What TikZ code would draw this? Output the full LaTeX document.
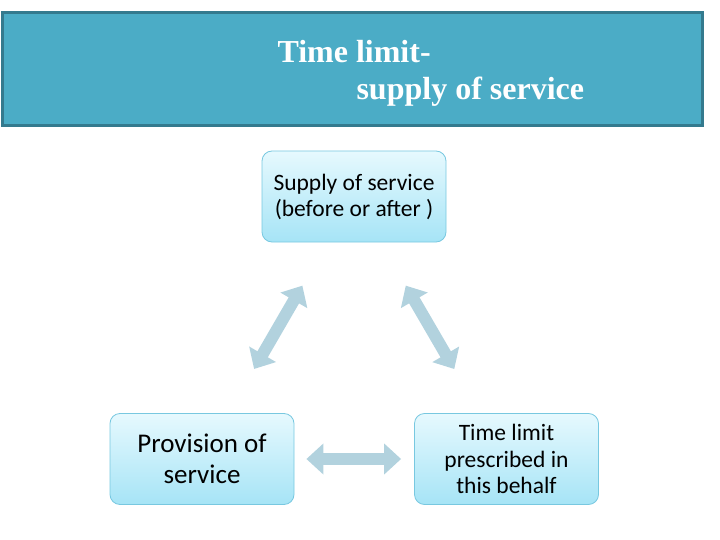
\documentclass[tikz,border=0pt]{standalone}
\usepackage{fontspec}
\newfontfamily\boxfont{Carlito}
\newfontfamily\headfont{Liberation Serif}
\usetikzlibrary{arrows.meta}
\definecolor{headfill}{RGB}{75,172,198}
\definecolor{headline}{RGB}{52,122,142}
\definecolor{boxtop}{RGB}{230,249,254}
\definecolor{boxbot}{RGB}{166,228,246}
\definecolor{boxline}{RGB}{120,200,224}
\definecolor{arrfill}{RGB}{178,210,222}
\begin{document}
\begin{tikzpicture}[x=1pt,y=-1pt,
  stepbox/.style={draw=boxline,line width=0.8pt,rounded corners=10pt,top color=boxtop,bottom color=boxbot,
    minimum width=184pt,minimum height=91pt,inner sep=0pt,align=center,text=black},
  dblarr/.style={draw=arrfill,line width=12pt,{Triangle[width=30pt,length=17pt]}-{Triangle[width=30pt,length=17pt]}},
  headtxt/.style={anchor=base west,text=white,font=\headfont\bfseries\fontsize{32}{36}\selectfont}]
\useasboundingbox (0,0) rectangle (720,540);
% title bar
\node[fill=headfill,draw=headline,line width=3pt,minimum width=700pt,minimum height=113pt,inner sep=0pt] (head) at (352,69) {};
\node[headtxt] (headA) at (274,63) {Time limit-};
\node[headtxt] (headB) at (353,100) {supply of service};
% boxes
\node[stepbox,font=\boxfont\fontsize{23.5}{26}\selectfont] (supply) at (354,196.5) {Supply of service\\(before or after )};
\node[stepbox,font=\boxfont\fontsize{27}{31}\selectfont] (prov) at (202,459) {Provision of\\service};
\node[stepbox,font=\boxfont\fontsize{23.5}{26.5}\selectfont] (tlim) at (506.5,459) {Time limit\\prescribed in\\this behalf};
% arrows
\draw[dblarr,shorten <=50pt,shorten >=51pt] (supply) -- (prov);
\draw[dblarr,shorten <=50pt,shorten >=51pt] (supply) -- (tlim);
\draw[dblarr,shorten <=12pt,shorten >=13pt] (prov) -- (tlim);
\end{tikzpicture}
\end{document}
